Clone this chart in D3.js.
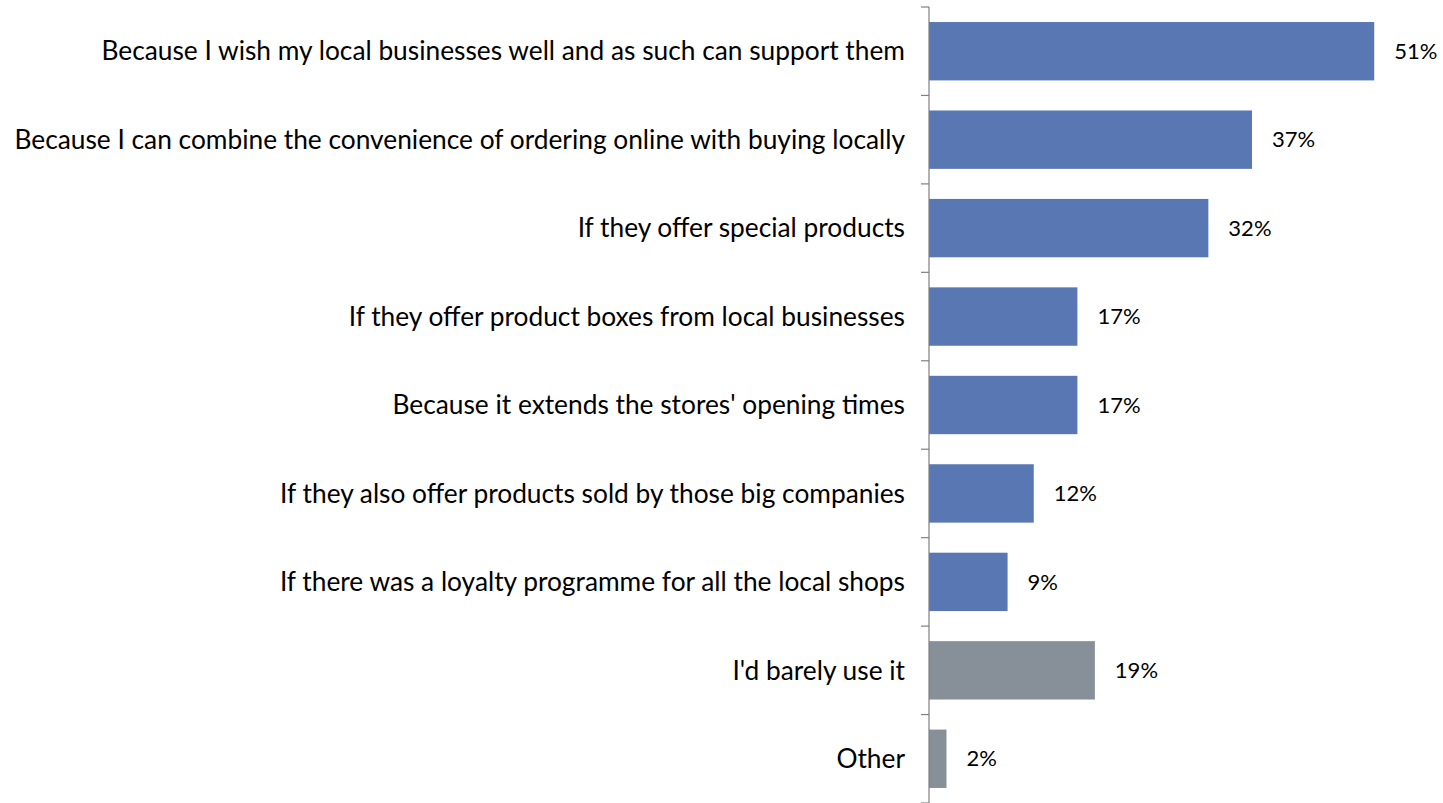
<!DOCTYPE html>
<html>
<head>
<meta charset="utf-8">
<script src="https://cdn.jsdelivr.net/npm/d3@7"></script>
<style>
  html, body { margin: 0; padding: 0; background: #fff; }
  svg text { font-family: Lato, "Open Sans", sans-serif; fill: #000; }
</style>
</head>
<body>
<svg id="chart" width="1443" height="803"></svg>
<script>
// Survey answers, top to bottom
const categories = [
  "Because I wish my local businesses well and as such can support them",
  "Because I can combine the convenience of ordering online with buying locally",
  "If they offer special products",
  "If they offer product boxes from local businesses",
  "Because it extends the stores' opening times",
  "If they also offer products sold by those big companies",
  "If there was a loyalty programme for all the local shops",
  "I'd barely use it",
  "Other"
];
const values = [51, 37, 32, 17, 17, 12, 9, 19, 2];
const groups = ["yes", "yes", "yes", "yes", "yes", "yes", "yes", "no", "no"];

const colors = { yes: "#5877b3", no: "#878f98" };

const svg = d3.select("#chart");
const axisX = 929;
const plotTop = 7, plotBottom = 803;

const y = d3.scaleBand()
  .domain(categories)
  .range([plotTop, plotBottom])
  .paddingInner(0.34)
  .paddingOuter(0.17);

const x = d3.scaleLinear()
  .domain([0, 100])
  .range([axisX, axisX + 873]);

const data = categories.map((c, i) => ({ c, v: values[i], g: groups[i] }));

// bars
svg.append("g").selectAll("rect")
  .data(data)
  .join("rect")
  .attr("x", x(0))
  .attr("y", d => y(d.c))
  .attr("width", d => x(d.v) - x(0))
  .attr("height", y.bandwidth())
  .attr("fill", d => colors[d.g]);

// value labels
svg.append("g").selectAll("text")
  .data(data)
  .join("text")
  .attr("x", d => x(d.v) + 20)
  .attr("y", d => y(d.c) + y.bandwidth() / 2)
  .attr("dy", "0.35em")
  .attr("font-size", 22)
  .text(d => d.v + "%");

// category axis: vertical line with ticks at band boundaries
const step = y.step();
const boundaries = d3.range(categories.length + 1).map(i => plotTop + i * step);
const axis = svg.append("g").attr("stroke", "#7f7f7f").attr("stroke-width", 1.2);
axis.append("line")
  .attr("x1", axisX).attr("x2", axisX)
  .attr("y1", plotTop).attr("y2", plotBottom);
axis.selectAll("line.tick")
  .data(boundaries)
  .join("line")
  .attr("class", "tick")
  .attr("x1", axisX - 8).attr("x2", axisX)
  .attr("y1", d => d).attr("y2", d => d);

// category labels
svg.append("g").selectAll("text")
  .data(data)
  .join("text")
  .attr("x", axisX - 24)
  .attr("y", d => y(d.c) + y.bandwidth() / 2)
  .attr("dy", "0.35em")
  .attr("text-anchor", "end")
  .attr("font-size", 26.3)
  .text(d => d.c);
</script>
</body>
</html>
